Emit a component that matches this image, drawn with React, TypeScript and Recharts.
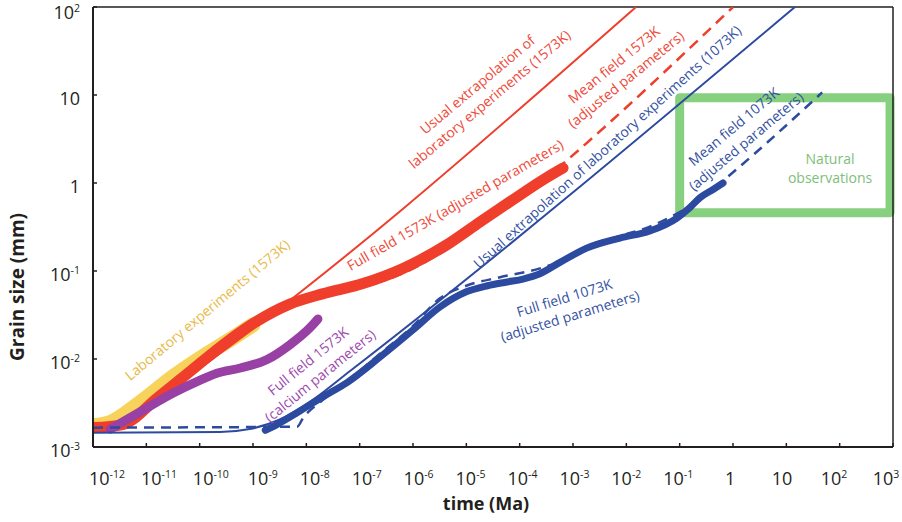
import React from 'react';
import { LineChart, Line, XAxis, YAxis, ReferenceArea, ReferenceLine, ReferenceDot, Label } from 'recharts';

const FONT = '"Open Sans", "Liberation Sans", sans-serif';
const INK = '#231f20';

const timeTicks = [1e-12, 1e-11, 1e-10, 1e-9, 1e-8, 1e-7, 1e-6, 1e-5, 1e-4, 1e-3, 1e-2, 1e-1, 1, 10, 100, 1000];
const sizeTicks = [1e-3, 1e-2, 1e-1, 1, 10, 100];

// laboratory experiments 1573K (yellow)
const labT = [1e-12, 2.1e-12, 7.6e-12, 3.2e-11, 1.4e-10, 4.2e-10, 1.0e-9];
const labG = [0.00174, 0.0019, 0.0032, 0.0063, 0.0115, 0.0174, 0.0245];

// full field 1573K, adjusted parameters (thick red)
const fullHotT = [1e-12, 3.6e-12, 1.6e-11, 6.6e-11, 2.75e-10, 1.2e-9, 4.9e-9, 2.0e-8, 1.15e-7, 6.5e-7, 4.4e-6, 1.8e-5, 7.6e-5, 3.2e-4, 6.5e-4];
const fullHotG = [0.00166, 0.0018, 0.0036, 0.0072, 0.0145, 0.027, 0.042, 0.055, 0.072, 0.107, 0.2, 0.36, 0.65, 1.15, 1.48];

// mean field 1573K, adjusted parameters (dashed red)
const meanHotT = [1e-12, 3.6e-12, 1.6e-11, 6.6e-11, 2.75e-10, 1.2e-9, 4.9e-9, 2.0e-8, 1.15e-7, 6.5e-7, 4.4e-6, 1.8e-5, 7.6e-5, 3.2e-4, 7.6e-4, 1];
const meanHotG = [0.00155, 0.0018, 0.0034, 0.0069, 0.0138, 0.0257, 0.04, 0.05, 0.066, 0.094, 0.18, 0.34, 0.6, 1.15, 1.8, 100];

// usual extrapolation 1573K (thin red)
const extraHotT = [1e-12, 2.6e-12, 7.6e-12, 2.8e-11, 0.0152];
const extraHotG = [0.00174, 0.0019, 0.0026, 0.0045, 100];

// full field 1573K, calcium parameters (purple)
const calcT = [2.1e-12, 7.6e-12, 3.2e-11, 1.0e-10, 2.1e-10, 5.8e-10, 1.8e-9, 4.9e-9, 1.2e-8, 1.65e-8];
const calcG = [0.0016, 0.0025, 0.0041, 0.0057, 0.0069, 0.0079, 0.0098, 0.0145, 0.023, 0.0285];

// usual extrapolation 1073K (thin blue)
const extraColdT = [1e-12, 2.4e-10, 8.7e-10, 3.1e-9, 1.2e-8, 6.6e-8, 14.5];
const extraColdG = [0.00145, 0.00148, 0.0016, 0.00204, 0.0033, 0.0073, 100];

// full field 1073K, adjusted parameters (thick blue)
const fullColdT = [1.7e-9, 2.8e-9, 6.7e-9, 2.0e-8, 5.8e-8, 2.4e-7, 1e-6, 3.2e-6, 1.0e-5, 2.5e-5, 5.8e-5, 1.15e-4, 2.4e-4, 5.8e-4, 1.8e-3, 7.6e-3, 0.0275, 0.089, 0.155, 0.24, 0.43, 0.65];
const fullColdG = [0.00155, 0.0018, 0.00245, 0.0037, 0.0054, 0.0105, 0.0214, 0.039, 0.058, 0.068, 0.075, 0.081, 0.093, 0.126, 0.182, 0.237, 0.285, 0.4, 0.525, 0.68, 0.85, 1.0];

// mean field 1073K, adjusted parameters (dashed blue)
const meanColdT = [1e-12, 6.7e-9, 8.7e-9, 2.0e-8, 5.8e-8, 2.4e-7, 1e-6, 3.2e-6, 1.0e-5, 4.3e-5, 2.4e-4, 5.8e-4, 1.8e-3, 7.6e-3, 0.0275, 0.089, 0.24, 0.76, 47];
const meanColdG = [0.00166, 0.0017, 0.00214, 0.0034, 0.0055, 0.0115, 0.0237, 0.049, 0.068, 0.085, 0.107, 0.129, 0.19, 0.25, 0.32, 0.45, 0.65, 1.15, 10.7];

// natural observations box (Ma, mm)
const naturalT = [0.1, 880];
const naturalG = [0.46, 9.3];

const zip = (t: number[], g: number[]) => t.map((v, i) => ({ t: v, g: g[i] }));

const annotations = [
  { lines: ['Laboratory experiments (1573K)'], t: 1.4e-10, g: 0.036, angle: -40, color: '#e9b949' },
  { lines: ['Full field 1573K', '(calcium parameters)'], t: 1.4e-8, g: 0.0078, angle: -39, color: '#a04aae' },
  { lines: ['Usual extrapolation of', 'laboratory experiments (1573K)'], t: 2.1e-5, g: 10.8, angle: -40, color: '#ee4b3b' },
  { lines: ['Mean field 1573K', '(adjusted parameters)'], t: 7.6e-3, g: 18.2, angle: -39, color: '#ee4b3b' },
  { lines: ['Full field 1573K (adjusted parameters)'], t: 6.2e-6, g: 0.56, angle: -30, color: '#ee4b3b' },
  { lines: ['Usual extrapolation of laboratory experiments (1073K)'], t: 4.4e-3, g: 2.57, angle: -42, color: '#3552a3' },
  { lines: ['Full field 1073K', '(adjusted parameters)'], t: 7.8e-4, g: 0.039, angle: -17, color: '#3552a3' },
  { lines: ['Mean field 1073K', '(adjusted parameters)'], t: 1.35, g: 3.6, angle: -40, color: '#3552a3' },
  { lines: ['Natural', 'observations'], t: 66, g: 1.48, angle: 0, color: '#7dc07a' },
];

const expOf = (v: number) => Math.round(Math.log10(v));

const TickText = ({ v, ...rest }: any) => {
  const e = expOf(v);
  if (e === 0) return <text {...rest}>1</text>;
  if (e === 1) return <text {...rest}>10</text>;
  return (
    <text {...rest}>
      10<tspan dy={-7} fontSize={10.5}>{String(e)}</tspan>
    </text>
  );
};

const XTick = (props: any) => {
  const { x, y, payload } = props;
  const shift = 14 - 1.4 * (expOf(payload.value) + 12);
  return (
    <g>
      <line x1={x} x2={x} y1={y} y2={y - 4} stroke={INK} strokeWidth={1.5} />
      <TickText v={payload.value} x={x + shift} y={y + 38} textAnchor="middle" fontSize={18} fill={INK} fontFamily={FONT} />
    </g>
  );
};

const YTick = (props: any) => {
  const { x, y, payload } = props;
  return (
    <g>
      <line x1={x} x2={x + 4} y1={y} y2={y} stroke={INK} strokeWidth={1.5} />
      <TickText v={payload.value} x={x - 13} y={Math.max(y + 10, 19)} textAnchor="end" fontSize={18} fill={INK} fontFamily={FONT} />
    </g>
  );
};

const XTitle = (props: any) => {
  const vb = props.viewBox || { x: 93, y: 447, width: 800, height: 75 };
  return (
    <text x={vb.x + vb.width / 2 - 7} y={vb.y + 63} textAnchor="middle" fontSize={18} fontWeight={700} fill={INK} fontFamily={FONT}>
      time (Ma)
    </text>
  );
};

const YTitle = (props: any) => {
  const vb = props.viewBox || { x: 0, y: 7, width: 93, height: 440 };
  const cx = vb.x + 24;
  const cy = vb.y + vb.height / 2 + 60;
  return (
    <text x={cx} y={cy} transform={`rotate(-90 ${cx} ${cy})`} textAnchor="middle" fontSize={19} fontWeight={700} fill={INK} fontFamily={FONT}>
      Grain size (mm)
    </text>
  );
};

const Annotation = ({ cx, cy, lines, angle, color }: any) => {
  if (cx == null || cy == null) return null;
  const lh = 19;
  const first = -((lines.length - 1) * lh) / 2 + 5;
  return (
    <text x={cx} y={cy} transform={`rotate(${angle} ${cx} ${cy})`} textAnchor="middle" fill={color} fontSize={14} fontFamily={FONT}>
      {lines.map((l: string, i: number) => (
        <tspan key={i} x={cx} dy={i === 0 ? first : lh}>{l}</tspan>
      ))}
    </text>
  );
};

const RED = '#ef3e2b';
const BLUE = '#2c4a9f';

export default function App() {
  return (
    <div style={{ position: 'absolute', left: 0, top: 0, background: '#fff' }}>
      <LineChart width={902} height={522} margin={{ top: 7, right: 9, left: 0, bottom: 0 }}>
        <XAxis
          dataKey="t"
          type="number"
          scale="log"
          domain={[1e-12, 1000]}
          allowDataOverflow
          ticks={timeTicks}
          interval={0}
          height={75}
          tickSize={0}
          tickMargin={0}
          tick={<XTick />}
          axisLine={{ stroke: INK, strokeWidth: 2 }}
        >
          <Label content={<XTitle />} />
        </XAxis>
        <YAxis
          dataKey="g"
          type="number"
          scale="log"
          domain={[1e-3, 100]}
          allowDataOverflow
          ticks={sizeTicks}
          interval={0}
          width={93}
          tickSize={0}
          tickMargin={0}
          tick={<YTick />}
          axisLine={{ stroke: INK, strokeWidth: 2 }}
        >
          <Label content={<YTitle />} />
        </YAxis>
        <ReferenceLine y={100} stroke={INK} strokeWidth={1.5} />
        <ReferenceLine x={1000} stroke={INK} strokeWidth={1.5} />
        <ReferenceArea
          x1={naturalT[0]}
          x2={naturalT[1]}
          y1={naturalG[0]}
          y2={naturalG[1]}
          fill="none"
          stroke="#87d080"
          strokeWidth={9}
          strokeLinejoin="round"
        />
        <Line data={zip(labT, labG)} dataKey="g" type="monotone" stroke="#f8d35c" strokeWidth={15} strokeLinecap="round" strokeLinejoin="round" dot={false} activeDot={false} isAnimationActive={false} />
        <Line data={zip(meanHotT, meanHotG)} dataKey="g" type="monotone" stroke={RED} strokeWidth={2.5} strokeDasharray="11 7" dot={false} activeDot={false} isAnimationActive={false} />
        <Line data={zip(fullHotT, fullHotG)} dataKey="g" type="monotone" stroke={RED} strokeWidth={11} strokeLinecap="round" strokeLinejoin="round" dot={false} activeDot={false} isAnimationActive={false} />
        <Line data={zip(extraHotT, extraHotG)} dataKey="g" type="monotone" stroke={RED} strokeWidth={2} dot={false} activeDot={false} isAnimationActive={false} />
        <Line data={zip(calcT, calcG)} dataKey="g" type="monotone" stroke="#9840a4" strokeWidth={9} strokeLinecap="round" strokeLinejoin="round" dot={false} activeDot={false} isAnimationActive={false} />
        <Line data={zip(extraColdT, extraColdG)} dataKey="g" type="monotone" stroke={BLUE} strokeWidth={2} dot={false} activeDot={false} isAnimationActive={false} />
        <Line data={zip(fullColdT, fullColdG)} dataKey="g" type="monotone" stroke={BLUE} strokeWidth={7} strokeLinecap="round" strokeLinejoin="round" dot={false} activeDot={false} isAnimationActive={false} />
        <Line data={zip(meanColdT, meanColdG)} dataKey="g" type="monotone" stroke={BLUE} strokeWidth={2.5} strokeDasharray="10 7" dot={false} activeDot={false} isAnimationActive={false} />
        {annotations.map((a, i) => (
          <ReferenceDot
            key={i}
            x={a.t}
            y={a.g}
            r={0}
            shape={(p: any) => <Annotation cx={p.cx} cy={p.cy} lines={a.lines} angle={a.angle} color={a.color} />}
          />
        ))}
      </LineChart>
    </div>
  );
}
